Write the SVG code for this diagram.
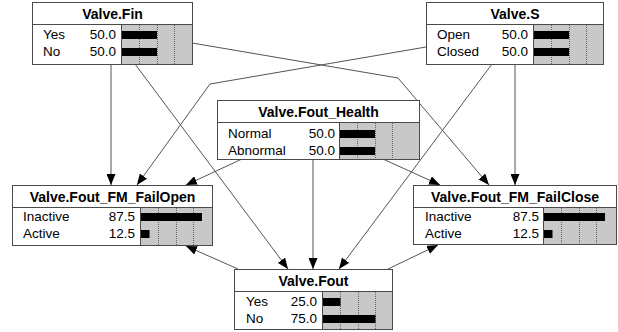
<svg xmlns="http://www.w3.org/2000/svg" width="618" height="332" viewBox="0 0 618 332">
  <style>
    .box { fill: #ffffff; stroke: #4a4a4a; stroke-width: 1; }
    .sep { stroke: #4a4a4a; stroke-width: 1; }
    .region { fill: #c8c8c8; stroke: #4a4a4a; stroke-width: 1; }
    .grid { stroke: #666666; stroke-width: 1; stroke-dasharray: 1 1; }
    .bar { fill: #000000; }
    .title { font-family: "Liberation Sans", Arial, sans-serif; font-size: 14px; font-weight: bold; fill: #000; text-anchor: middle; }
    .lbl { font-family: "Liberation Sans", Arial, sans-serif; font-size: 13.5px; fill: #000; }
    .val { font-family: "Liberation Sans", Arial, sans-serif; font-size: 13.5px; fill: #000; text-anchor: end; }
    .edge { fill: none; stroke: #555555; stroke-width: 1; marker-end: url(#arrow); }
  </style>
  <defs>
    <marker id="arrow" markerUnits="userSpaceOnUse" markerWidth="11" markerHeight="9" refX="11" refY="4.5" orient="auto">
      <path d="M0,0 L11,4.5 L0,9 z" fill="#000000"/>
    </marker>
  </defs>

  <rect width="618" height="332" fill="#ffffff"/>

  <!-- connectors -->
  <g id="connectors">
    <path class="edge" d="M111,64 L111,185"/>
    <path class="edge" d="M135,64 L288,269"/>
    <path class="edge" d="M192,43 L398,78 L489,185"/>
    <path class="edge" d="M426,47 L210,84 L137,185"/>
    <path class="edge" d="M492,64 L339,269"/>
    <path class="edge" d="M515,64 L515,185"/>
    <path class="edge" d="M242,159 L186,185"/>
    <path class="edge" d="M383,159 L440,185"/>
    <path class="edge" d="M313,159 L313,269"/>
    <path class="edge" d="M238,269 L186,246"/>
    <path class="edge" d="M388,269 L438,245"/>
  </g>

  <!-- Valve.Fin -->
  <g id="valve-fin">
    <rect class="box" x="32.5" y="2.5" width="160" height="62"/>
    <line class="sep" x1="32.5" y1="24.5" x2="192.5" y2="24.5"/>
    <rect class="region" x="121.5" y="24.5" width="71" height="40"/>
    <line class="grid" x1="139.5" y1="25" x2="139.5" y2="64"/>
    <line class="grid" x1="157.5" y1="25" x2="157.5" y2="64"/>
    <line class="grid" x1="174.5" y1="25" x2="174.5" y2="64"/>
    <rect class="bar" x="122" y="31" width="35" height="8"/>
    <rect class="bar" x="122" y="48" width="35" height="8"/>
    <text class="title" x="112.5" y="18.5">Valve.Fin</text>
    <text class="lbl" x="43" y="39">Yes</text>
    <text class="val" x="116" y="39">50.0</text>
    <text class="lbl" x="43" y="56">No</text>
    <text class="val" x="116" y="56">50.0</text>
  </g>

  <!-- Valve.S -->
  <g id="valve-s">
    <rect class="box" x="426.5" y="2.5" width="177" height="62"/>
    <line class="sep" x1="426.5" y1="24.5" x2="603.5" y2="24.5"/>
    <rect class="region" x="533.5" y="24.5" width="70" height="40"/>
    <line class="grid" x1="551.5" y1="25" x2="551.5" y2="64"/>
    <line class="grid" x1="569.5" y1="25" x2="569.5" y2="64"/>
    <line class="grid" x1="586.5" y1="25" x2="586.5" y2="64"/>
    <rect class="bar" x="534" y="31" width="35" height="8"/>
    <rect class="bar" x="534" y="48" width="35" height="8"/>
    <text class="title" x="515" y="18.5">Valve.S</text>
    <text class="lbl" x="437" y="39">Open</text>
    <text class="val" x="528" y="39">50.0</text>
    <text class="lbl" x="437" y="56">Closed</text>
    <text class="val" x="528" y="56">50.0</text>
  </g>

  <!-- Valve.Fout_Health -->
  <g id="valve-fout-health">
    <rect class="box" x="217.5" y="100.5" width="202" height="59"/>
    <line class="sep" x1="217.5" y1="122.5" x2="419.5" y2="122.5"/>
    <rect class="region" x="339.5" y="122.5" width="80" height="37"/>
    <line class="grid" x1="357.5" y1="123" x2="357.5" y2="159"/>
    <line class="grid" x1="375.5" y1="123" x2="375.5" y2="159"/>
    <line class="grid" x1="392.5" y1="123" x2="392.5" y2="159"/>
    <rect class="bar" x="340" y="130" width="35" height="8"/>
    <rect class="bar" x="340" y="147" width="35" height="8"/>
    <text class="title" x="318.5" y="117">Valve.Fout_Health</text>
    <text class="lbl" x="228" y="138">Normal</text>
    <text class="val" x="335" y="138">50.0</text>
    <text class="lbl" x="228" y="155">Abnormal</text>
    <text class="val" x="335" y="155">50.0</text>
  </g>

  <!-- Valve.Fout_FM_FailOpen -->
  <g id="valve-fout-fm-failopen">
    <rect class="box" x="12.5" y="185.5" width="200" height="60"/>
    <line class="sep" x1="12.5" y1="207.5" x2="212.5" y2="207.5"/>
    <rect class="region" x="140.5" y="207.5" width="72" height="38"/>
    <line class="grid" x1="158.5" y1="208" x2="158.5" y2="245"/>
    <line class="grid" x1="176.5" y1="208" x2="176.5" y2="245"/>
    <line class="grid" x1="193.5" y1="208" x2="193.5" y2="245"/>
    <rect class="bar" x="141" y="213" width="61" height="8"/>
    <rect class="bar" x="141" y="230" width="8.5" height="8"/>
    <text class="title" x="112.5" y="202">Valve.Fout_FM_FailOpen</text>
    <text class="lbl" x="23" y="221">Inactive</text>
    <text class="val" x="135" y="221">87.5</text>
    <text class="lbl" x="23" y="238">Active</text>
    <text class="val" x="135" y="238">12.5</text>
  </g>

  <!-- Valve.Fout_FM_FailClose -->
  <g id="valve-fout-fm-failclose">
    <rect class="box" x="413.5" y="185.5" width="203" height="59"/>
    <line class="sep" x1="413.5" y1="207.5" x2="616.5" y2="207.5"/>
    <rect class="region" x="543.5" y="207.5" width="73" height="37"/>
    <line class="grid" x1="561.5" y1="208" x2="561.5" y2="244"/>
    <line class="grid" x1="579.5" y1="208" x2="579.5" y2="244"/>
    <line class="grid" x1="596.5" y1="208" x2="596.5" y2="244"/>
    <rect class="bar" x="544" y="213" width="61" height="8"/>
    <rect class="bar" x="544" y="230" width="8.5" height="8"/>
    <text class="title" x="515" y="202">Valve.Fout_FM_FailClose</text>
    <text class="lbl" x="425" y="221">Inactive</text>
    <text class="val" x="539" y="221">87.5</text>
    <text class="lbl" x="425" y="238">Active</text>
    <text class="val" x="539" y="238">12.5</text>
  </g>

  <!-- Valve.Fout -->
  <g id="valve-fout">
    <rect class="box" x="234.5" y="269.5" width="158" height="60"/>
    <line class="sep" x1="234.5" y1="291.5" x2="392.5" y2="291.5"/>
    <rect class="region" x="322.5" y="291.5" width="70" height="38"/>
    <line class="grid" x1="340.5" y1="292" x2="340.5" y2="329"/>
    <line class="grid" x1="358.5" y1="292" x2="358.5" y2="329"/>
    <line class="grid" x1="375.5" y1="292" x2="375.5" y2="329"/>
    <rect class="bar" x="323" y="298" width="17.5" height="8"/>
    <rect class="bar" x="323" y="315" width="52.5" height="8"/>
    <text class="title" x="313.5" y="286">Valve.Fout</text>
    <text class="lbl" x="246" y="306">Yes</text>
    <text class="val" x="317" y="306">25.0</text>
    <text class="lbl" x="246" y="323">No</text>
    <text class="val" x="317" y="323">75.0</text>
  </g>
</svg>
